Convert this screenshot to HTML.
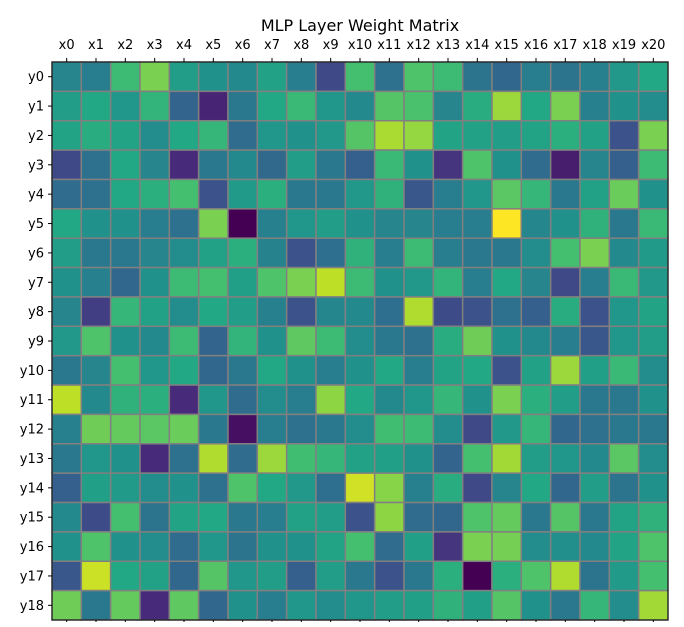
<!DOCTYPE html>
<html><head><meta charset="utf-8"><style>
html,body{margin:0;padding:0;background:#fff;}
svg text{font-family:"DejaVu Sans","Liberation Sans",sans-serif;}
</style></head><body>
<svg id="chart" width="684" height="622" viewBox="0 0 684 622">
<text x="360" y="31" font-size="16" text-anchor="middle" fill="#000">MLP Layer Weight Matrix</text>
<g id="cells"></g>
<g id="xlabels"></g>
<g id="ylabels"></g>
<rect x="52" y="62" width="616" height="558" fill="none" stroke="#000" stroke-width="1"/>
</svg>
<script>
const xCategories = ["x0","x1","x2","x3","x4","x5","x6","x7","x8","x9","x10","x11","x12","x13","x14","x15","x16","x17","x18","x19","x20"];
const yCategories = ["y0","y1","y2","y3","y4","y5","y6","y7","y8","y9","y10","y11","y12","y13","y14","y15","y16","y17","y18"];
const row0 = [0.45,0.42,0.68,0.8,0.55,0.5,0.47,0.57,0.42,0.22,0.7,0.37,0.72,0.68,0.38,0.33,0.42,0.38,0.43,0.53,0.6];
const row1 = [0.55,0.6,0.52,0.65,0.32,0.1,0.4,0.6,0.67,0.52,0.47,0.73,0.71,0.45,0.62,0.85,0.6,0.8,0.43,0.5,0.48];
const row2 = [0.58,0.62,0.58,0.48,0.6,0.66,0.35,0.52,0.5,0.53,0.73,0.87,0.84,0.58,0.57,0.55,0.58,0.63,0.57,0.25,0.8];
const row3 = [0.22,0.37,0.6,0.45,0.12,0.4,0.47,0.34,0.55,0.4,0.3,0.67,0.5,0.15,0.72,0.5,0.35,0.08,0.45,0.3,0.68];
const row4 = [0.35,0.37,0.6,0.63,0.7,0.25,0.54,0.63,0.4,0.4,0.53,0.64,0.27,0.42,0.52,0.74,0.66,0.4,0.57,0.77,0.5];
const row5 = [0.6,0.5,0.5,0.42,0.37,0.8,0.0,0.43,0.52,0.55,0.5,0.45,0.45,0.42,0.42,1.0,0.46,0.5,0.64,0.4,0.67];
const row6 = [0.55,0.4,0.4,0.45,0.48,0.57,0.63,0.44,0.25,0.36,0.64,0.42,0.68,0.42,0.4,0.4,0.48,0.7,0.8,0.47,0.54];
const row7 = [0.5,0.43,0.33,0.5,0.68,0.7,0.56,0.72,0.8,0.9,0.68,0.5,0.53,0.65,0.42,0.6,0.45,0.22,0.42,0.67,0.53];
const row8 = [0.45,0.18,0.66,0.57,0.48,0.6,0.55,0.43,0.25,0.46,0.47,0.36,0.88,0.23,0.25,0.37,0.3,0.62,0.25,0.52,0.58];
const row9 = [0.53,0.72,0.5,0.47,0.68,0.32,0.65,0.5,0.75,0.68,0.48,0.4,0.37,0.62,0.78,0.5,0.47,0.42,0.27,0.52,0.55];
const row10 = [0.4,0.45,0.7,0.52,0.6,0.33,0.4,0.6,0.5,0.42,0.5,0.6,0.42,0.58,0.6,0.25,0.57,0.85,0.56,0.67,0.48];
const row11 = [0.9,0.47,0.64,0.63,0.12,0.52,0.35,0.48,0.42,0.83,0.6,0.47,0.52,0.66,0.5,0.8,0.63,0.55,0.4,0.4,0.5];
const row12 = [0.43,0.78,0.76,0.74,0.77,0.4,0.04,0.42,0.37,0.4,0.48,0.69,0.68,0.48,0.22,0.53,0.66,0.33,0.37,0.4,0.4];
const row13 = [0.4,0.52,0.5,0.12,0.37,0.88,0.35,0.85,0.69,0.66,0.57,0.56,0.5,0.32,0.7,0.86,0.55,0.52,0.47,0.74,0.48];
const row14 = [0.3,0.56,0.54,0.48,0.5,0.37,0.72,0.6,0.53,0.36,0.93,0.82,0.43,0.62,0.22,0.45,0.6,0.33,0.55,0.38,0.5];
const row15 = [0.47,0.23,0.7,0.38,0.58,0.6,0.4,0.42,0.57,0.55,0.25,0.83,0.35,0.33,0.72,0.76,0.4,0.73,0.4,0.58,0.64];
const row16 = [0.5,0.72,0.5,0.48,0.35,0.52,0.38,0.5,0.5,0.58,0.7,0.35,0.56,0.15,0.8,0.79,0.48,0.49,0.47,0.58,0.72];
const row17 = [0.27,0.92,0.6,0.57,0.33,0.73,0.52,0.55,0.3,0.55,0.4,0.25,0.4,0.63,0.0,0.63,0.72,0.88,0.38,0.54,0.7];
const row18 = [0.78,0.4,0.76,0.12,0.75,0.33,0.5,0.42,0.52,0.48,0.52,0.55,0.56,0.64,0.56,0.73,0.5,0.4,0.66,0.48,0.86];
const values = [row0,row1,row2,row3,row4,row5,row6,row7,row8,row9,row10,row11,row12,row13,row14,row15,row16,row17,row18];

const L=52,T=62,W=616,H=558;
const cw=W/xCategories.length, ch=H/yCategories.length;
const xScale=i=>L+i*cw, yScale=j=>T+j*ch;
const stops=["#440154","#482475","#414487","#355f8d","#2a788e","#21918c","#22a884","#44bf70","#7ad151","#bddf26","#fde725"];
function hex(h){return [1,3,5].map(k=>parseInt(h.substr(k,2),16));}
function viridis(v){v=Math.max(0,Math.min(1,v));const p=v*10,i=Math.min(9,Math.floor(p)),f=p-i;const a=hex(stops[i]),b=hex(stops[i+1]);return "rgb("+a.map((c,k)=>Math.round(c+(b[k]-c)*f)).join(",")+")";}
const NS="http://www.w3.org/2000/svg";
const cells=document.getElementById("cells");
values.forEach((row,j)=>row.forEach((v,i)=>{
 const r=document.createElementNS(NS,"rect");
 r.setAttribute("x",xScale(i));r.setAttribute("y",yScale(j));
 r.setAttribute("width",cw);r.setAttribute("height",ch);
 r.setAttribute("fill",viridis(v));r.setAttribute("stroke","#808080");r.setAttribute("stroke-width","1.5");
 
 
 cells.appendChild(r);
}));
const xl=document.getElementById("xlabels");
xCategories.forEach((c,i)=>{
 const cx=xScale(i)+cw/2;
 const t=document.createElementNS(NS,"text");
 t.setAttribute("x",cx);t.setAttribute("y",49);t.setAttribute("font-size","13");t.setAttribute("text-anchor","middle");
 t.textContent=c;
 
 
 xl.appendChild(t);
 [[T-4,T],[T+H,T+H+4]].forEach(([a,b])=>{
  const l=document.createElementNS(NS,"line");
  l.setAttribute("x1",cx);l.setAttribute("x2",cx);l.setAttribute("y1",a);l.setAttribute("y2",b);l.setAttribute("stroke","#000");
  
  
  xl.appendChild(l);
 });
});
const yl=document.getElementById("ylabels");
yCategories.forEach((c,j)=>{
 const cy=yScale(j)+ch/2;
 const t=document.createElementNS(NS,"text");
 t.setAttribute("x",44);t.setAttribute("y",cy+4.5);t.setAttribute("font-size","13");t.setAttribute("text-anchor","end");
 t.textContent=c;
 
 
 yl.appendChild(t);
 const l=document.createElementNS(NS,"line");
 l.setAttribute("x1",L-4);l.setAttribute("x2",L);l.setAttribute("y1",cy);l.setAttribute("y2",cy);l.setAttribute("stroke","#000");
 
 
 yl.appendChild(l);
});
</script>
</body></html>
